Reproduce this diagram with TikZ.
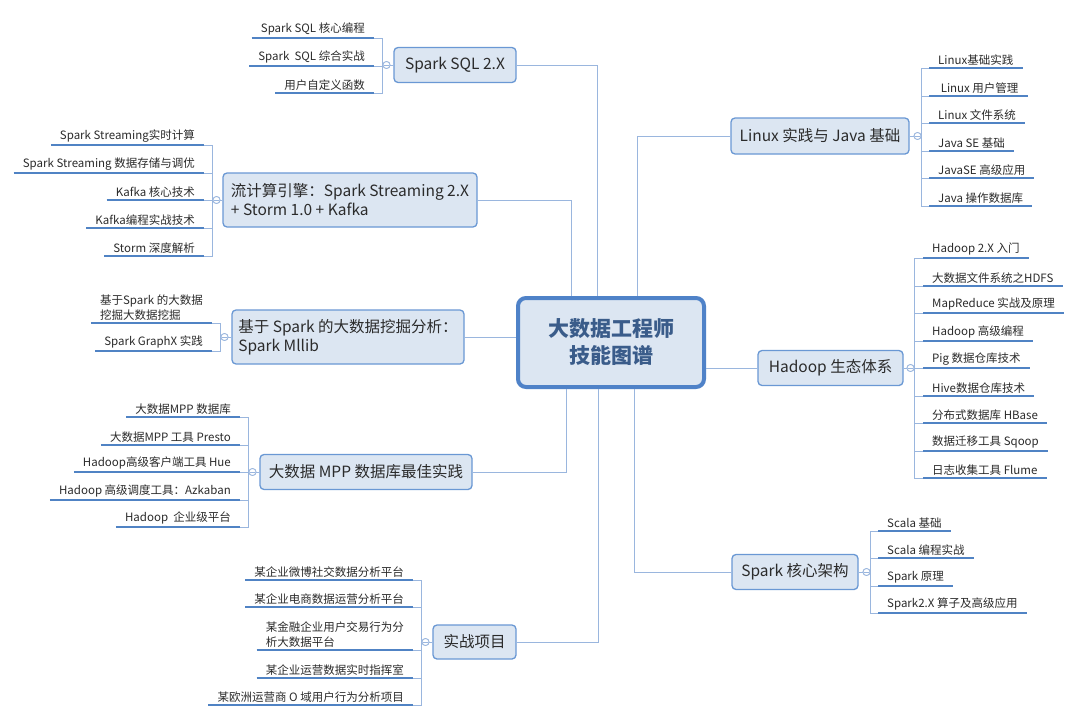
\documentclass[tikz,border=0pt]{standalone}
\usepackage{fontspec}
\setmainfont{Noto Sans CJK SC}
\usetikzlibrary{calc}
\definecolor{lineC}{HTML}{9AB6DE}
\definecolor{ulC}{HTML}{5083C4}
\definecolor{boxC}{HTML}{6A98D4}
\definecolor{fillC}{HTML}{DCE6F2}
\definecolor{hubC}{HTML}{4F82C8}
\definecolor{hubT}{HTML}{3A5C8A}
\definecolor{txtC}{HTML}{2B2B2B}
\begin{document}
\begin{tikzpicture}[x=1pt,y=-1pt,
  leaf/.style={inner xsep=9pt, inner ysep=2.5pt, font=\fontsize{11.5}{14.5}\selectfont, text=txtC, align=left},
  lleaf/.style={leaf, anchor=south east},
  rleaf/.style={leaf, anchor=south west},
  branch/.style={draw=boxC, line width=1.3pt, fill=fillC, rounded corners=4pt,
    font=\fontsize{15.5}{19}\selectfont, text=txtC, align=left, inner sep=0pt},
  hub/.style={draw=hubC, line width=4pt, fill=fillC, rounded corners=8pt,
    font=\fontsize{21}{27}\selectfont\bfseries, text=hubT, align=center, inner sep=0pt},
  knob/.style={circle, draw=lineC, fill=white, line width=0.8pt, minimum size=7pt, inner sep=0pt},
  conn/.style={draw=lineC, line width=1pt},
  uline/.style={draw=ulC, line width=2.6pt}]
\useasboundingbox (0,0) rectangle (1080,720);
\fill[white] (0,0) rectangle (1080,720);

% centre
\node[hub, minimum width=186pt, minimum height=89pt] (hub) at (611,342.5) {大数据工程师\\技能图谱};

% ---------- left branches ----------
\node[branch, minimum width=122pt, minimum height=35pt] (sql) at (455,65) {Spark SQL 2.X};
\node[knob] (ksql) at (386.5,65) {};
\node[lleaf] (sql1) at (374,38) {Spark SQL 核心编程};
\node[lleaf] (sql2) at (374,66) {Spark\ \ SQL 综合实战};
\node[lleaf] (sql3) at (374,93) {用户自定义函数};

\node[branch, minimum width=254pt, minimum height=54pt] (str) at (350,200) {流计算引擎：Spark Streaming 2.X\\ + Storm 1.0 + Kafka};
\node[knob] (kstr) at (216.5,200) {};
\node[lleaf] (str1) at (204,145) {Spark Streaming实时计算};
\node[lleaf] (str2) at (204,173) {Spark Streaming 数据存储与调优};
\node[lleaf] (str3) at (204,200) {Kafka 核心技术};
\node[lleaf] (str4) at (204,228) {Kafka编程实战技术};
\node[lleaf] (str5) at (204,256) {Storm 深度解析};

\node[branch, minimum width=232pt, minimum height=54pt] (mll) at (348,337) {基于 Spark 的大数据挖掘分析：\\Spark Mllib};
\node[knob] (kmll) at (224.5,337) {};
\node[lleaf] (mll1) at (212,323) {基于Spark 的大数据\\挖掘大数据挖掘};
\node[lleaf] (mll2) at (212,351) {Spark GraphX 实践};

\node[branch, minimum width=212pt, minimum height=35pt] (mpp) at (366,472) {大数据 MPP 数据库最佳实践};
\node[knob] (kmpp) at (252.5,472) {};
\node[lleaf] (mpp1) at (240,417) {大数据MPP 数据库};
\node[lleaf] (mpp2) at (240,445) {大数据MPP 工具 Presto};
\node[lleaf] (mpp3) at (240,472) {Hadoop高级客户端工具 Hue};
\node[lleaf] (mpp4) at (240,500) {Hadoop 高级调度工具：Azkaban};
\node[lleaf] (mpp5) at (240,527) {Hadoop\ \ 企业级平台};

\node[branch, minimum width=83pt, minimum height=34pt] (proj) at (474.5,642) {实战项目};
\node[knob] (kproj) at (425.5,642) {};
\node[lleaf] (proj1) at (413,580) {某企业微博社交数据分析平台};
\node[lleaf] (proj2) at (413,607) {某企业电商数据运营分析平台};
\node[lleaf] (proj3) at (413,650) {某金融企业用户交易行为分\\析大数据平台};
\node[lleaf] (proj4) at (413,678) {某企业运营数据实时指挥室};
\node[lleaf] (proj5) at (413,705) {某欧洲运营商 O 域用户行为分析项目};

% ---------- right branches ----------
\node[branch, minimum width=178pt, minimum height=36pt] (lin) at (820,136) {Linux 实践与 Java 基础};
\node[knob] (klin) at (917.5,136) {};
\node[rleaf] (lin1) at (929,68) {Linux基础实践};
\node[rleaf] (lin2) at (929,96) {\ Linux 用户管理};
\node[rleaf] (lin3) at (929,123) {Linux 文件系统};
\node[rleaf] (lin4) at (929,151) {Java SE 基础};
\node[rleaf] (lin5) at (929,178) {JavaSE 高级应用};
\node[rleaf] (lin6) at (929,206) {Java 操作数据库};

\node[branch, minimum width=145pt, minimum height=35pt] (had) at (830.5,368) {Hadoop 生态体系};
\node[knob] (khad) at (910.5,368) {};
\node[rleaf] (had1) at (923,258) {Hadoop 2.X 入门};
\node[rleaf] (had2) at (923,286) {大数据文件系统之HDFS};
\node[rleaf] (had3) at (923,313) {MapReduce 实战及原理};
\node[rleaf] (had4) at (923,341) {Hadoop 高级编程};
\node[rleaf] (had5) at (923,368) {Pig 数据仓库技术};
\node[rleaf] (had6) at (923,396) {Hive数据仓库技术};
\node[rleaf] (had7) at (923,423) {分布式数据库 HBase};
\node[rleaf] (had8) at (923,451) {数据迁移工具 Sqoop};
\node[rleaf] (had9) at (923,478) {日志收集工具 Flume};

\node[branch, minimum width=126pt, minimum height=35pt] (core) at (795,572) {Spark 核心架构};
\node[knob] (kcore) at (866.5,572) {};
\node[rleaf] (core1) at (878,531) {Scala 基础};
\node[rleaf] (core2) at (878,558) {Scala 编程实战};
\node[rleaf] (core3) at (878,586) {Spark 原理};
\node[rleaf] (core4) at (878,613) {Spark2.X 算子及高级应用};

% ---------- brackets and underlines ----------
\foreach \k/\list in {ksql/{sql1,sql2,sql3}, kstr/{str1,str2,str3,str4,str5}, kmll/{mll1,mll2},
  kmpp/{mpp1,mpp2,mpp3,mpp4,mpp5}, kproj/{proj1,proj2,proj3,proj4,proj5}}{
  \foreach \n in \list {
    \draw[conn] (\n.south east) -| (\k.west);
    \draw[uline] (\n.south west) -- (\n.south east);
  }
}
\foreach \k/\list in {klin/{lin1,lin2,lin3,lin4,lin5,lin6}, khad/{had1,had2,had3,had4,had5,had6,had7,had8,had9},
  kcore/{core1,core2,core3,core4}}{
  \foreach \n in \list {
    \draw[conn] (\n.south west) -| (\k.east);
    \draw[uline] (\n.south west) -- (\n.south east);
  }
}

% knob to branch
\foreach \k/\b in {ksql/sql, kstr/str, kmll/mll, kmpp/mpp, kproj/proj}{
  \draw[conn] (\k.east) -- (\k.east -| \b.west);
}
\foreach \k/\b in {klin/lin, khad/had, kcore/core}{
  \draw[conn] (\k.west) -- (\k.west -| \b.east);
}
% knob minus signs
\foreach \k in {ksql,kstr,kmll,kmpp,kproj,klin,khad,kcore}{
  \node[knob] at (\k) {};
  \draw[draw=lineC, line width=0.7pt] ([xshift=1.8pt]\k.west) -- ([xshift=-1.8pt]\k.east);
}

% hub to branches
\draw[conn] ([xshift=-14pt]hub.north) |- (sql.east);
\draw[conn] ([xshift=-40pt]hub.north) |- (str.east);
\draw[conn] ([xshift=26pt]hub.north) |- (lin.west);
\draw[conn] ([xshift=-45pt]hub.south) |- (mpp.east);
\draw[conn] ([xshift=-13pt]hub.south) |- (proj.east);
\draw[conn] ([xshift=23pt]hub.south) |- (core.west);
\draw[conn] (mll.east) -- (mll.east -| hub.west);
\draw[conn] (had.west) -- (had.west -| hub.east);
\end{tikzpicture}
\end{document}
